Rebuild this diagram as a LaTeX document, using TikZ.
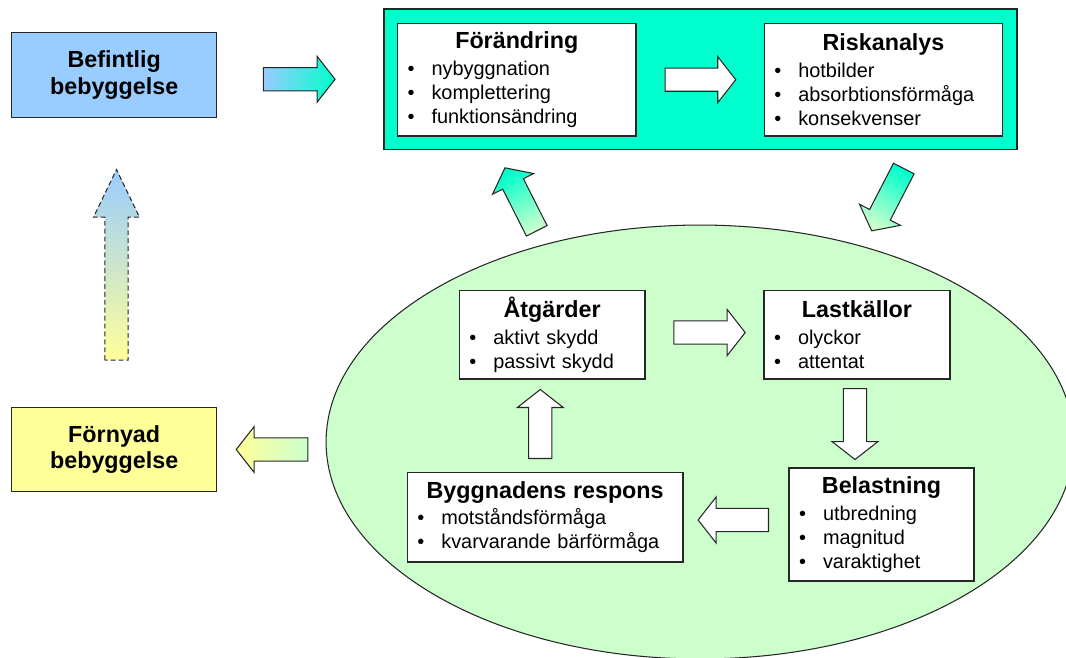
\documentclass[tikz,border=0pt]{standalone}
\usepackage{fontspec}
\setmainfont{Liberation Sans}
\usetikzlibrary{calc,shapes.geometric}

\definecolor{ljusbla}{HTML}{99CCFF}
\definecolor{turkos}{HTML}{00FFCC}
\definecolor{ljusgron}{HTML}{CCFFCC}
\definecolor{ljusgul}{HTML}{FFFF99}

\newcommand{\rubrik}[1]{\hspace*{\fill}{\fontsize{13.26pt}{15.2pt}\selectfont\bfseries #1}\hspace*{\fill}\null}
\newcommand{\pkt}[1]{\makebox[0.48cm][l]{\textbullet}#1}
% block arrow: [style]{start}{tip}{head length}
\newcommand{\blockarrow}[4][]{%
  \coordinate (ba-s) at #2;
  \coordinate (ba-e) at #3;
  \coordinate (ba-h) at ($(ba-e)!#4!(ba-s)$);
  \path[#1] ($(ba-s)!0.232cm!90:(ba-e)$) -- ($(ba-h)!0.232cm!90:(ba-e)$)
    -- ($(ba-h)!0.46cm!90:(ba-e)$) -- (ba-e)
    -- ($(ba-h)!0.46cm!-90:(ba-e)$) -- ($(ba-h)!0.232cm!-90:(ba-e)$)
    -- ($(ba-s)!0.232cm!-90:(ba-e)$) -- cycle;}

\begin{document}
\begin{tikzpicture}[x=0.02cm,y=-0.02cm,
  rand/.style={draw=black!85,line width=0.6pt},
  listbox/.style={rand,fill=white,align=left,inner xsep=0.2cm,inner ysep=0pt,
    text width=#1,font=\fontsize{11.33pt}{13.66pt}\selectfont},
  sidobox/.style={rand,align=center,minimum width=4.1cm,minimum height=1.692cm,
    font=\fontsize{13.26pt}{15.2pt}\selectfont\bfseries}]
\useasboundingbox (0,0) rectangle (1066,657);

% Background shapes
\node[ellipse,rand,fill=ljusgron,minimum width=14.96cm,minimum height=8.68cm,inner sep=0pt] (cykel) at (700,442) {};
\node[rand,line width=0.8pt,fill=turkos,minimum width=12.66cm,minimum height=2.81cm] (ram) at (700.5,79.25) {};

% Side boxes
\node[sidobox,fill=ljusbla] (befintlig) at (114.2,75) {Befintlig\\bebyggelse};
\node[sidobox,fill=ljusgul] (fornyad) at (114.2,449.5) {Förnyad\\bebyggelse};

% Top boxes
\node[listbox=4.37cm,minimum height=2.254cm] (forandring) at (516.75,79.65)
  {\rubrik{Förändring}\\[1.4pt]\pkt{nybyggnation}\\\pkt{komplettering}\\\pkt{funktionsändring}};
\node[listbox=4.37cm,minimum height=2.254cm] (riskanalys) at (883.5,79.65)
  {\rubrik{Riskanalys}\\[1.4pt]\pkt{hotbilder}\\\pkt{absorbtionsförmåga}\\\pkt{konsekvenser}};

% Boxes in the cycle
\node[listbox=3.314cm,minimum height=1.766cm] (atgarder) at (552.15,334.85)
  {\rubrik{Åtgärder}\\[1.4pt]\pkt{aktivt skydd}\\\pkt{passivt skydd}};
\node[listbox=3.32cm,minimum height=1.766cm] (lastkallor) at (857,334.85)
  {\rubrik{Lastkällor}\\[1.4pt]\pkt{olyckor}\\\pkt{attentat}};
\node[listbox=3.3cm,minimum height=2.26cm] (belastning) at (881.5,524.5)
  {\rubrik{Belastning}\\[1.4pt]\pkt{utbredning}\\\pkt{magnitud}\\\pkt{varaktighet}};
\node[listbox=5.114cm,minimum height=1.786cm] (respons) at (545.15,517.35)
  {\rubrik{Byggnadens respons}\\[1.4pt]\pkt{motståndsförmåga}\\\pkt{kvarvarande bärförmåga}};

% Coloured arrows
\blockarrow[rand,left color=ljusbla,right color=turkos]{($(ram.west)+(-120,0)$)}{($(ram.west)+(-48.3,0)$)}{0.36cm}
\blockarrow[rand,top color=turkos,bottom color=ljusgron,shading angle=-27.3]{($(riskanalys.south)+(20.3,32)$)}{($(riskanalys.south)+(-11.8,94.3)$)}{0.36cm}
\blockarrow[rand,top color=turkos,bottom color=ljusgron,shading angle=26.8]{($(forandring.south)+(20,94.3)$)}{($(forandring.south)+(-11.8,31.3)$)}{0.36cm}
\blockarrow[rand,left color=ljusgul,right color=ljusgron]{($(fornyad.east)+(90.6,0)$)}{($(fornyad.east)+(19,0)$)}{0.36cm}
\blockarrow[rand,dash pattern=on 2.8pt off 1.7pt,top color=ljusbla,bottom color=ljusgul]{($(fornyad.north)+(2.3,-46.6)$)}{($(befintlig.south)+(2.3,51.7)$)}{0.954cm}

% White arrows
\blockarrow[rand,fill=white]{($(forandring.east)!0.225!(riskanalys.west)$)}{($(forandring.east)!0.78!(riskanalys.west)$)}{0.36cm}
\blockarrow[rand,fill=white]{($(atgarder.east)+(28.3,-2.3)$)}{($(lastkallor.west)+(-18.3,-2.3)$)}{0.36cm}
\blockarrow[rand,fill=white]{($(lastkallor.south)+(-2,9)$)}{($(lastkallor.south)+(-2,80)$)}{0.36cm}
\blockarrow[rand,fill=white]{($(belastning.west)+(-20,-4.5)$)}{($(respons.east)+(14.6,2.65)$)}{0.36cm}
\blockarrow[rand,fill=white]{($(respons.north)+(-4.85,-13.7)$)}{($(atgarder.south)+(-11.85,10)$)}{0.36cm}
\end{tikzpicture}
\end{document}
